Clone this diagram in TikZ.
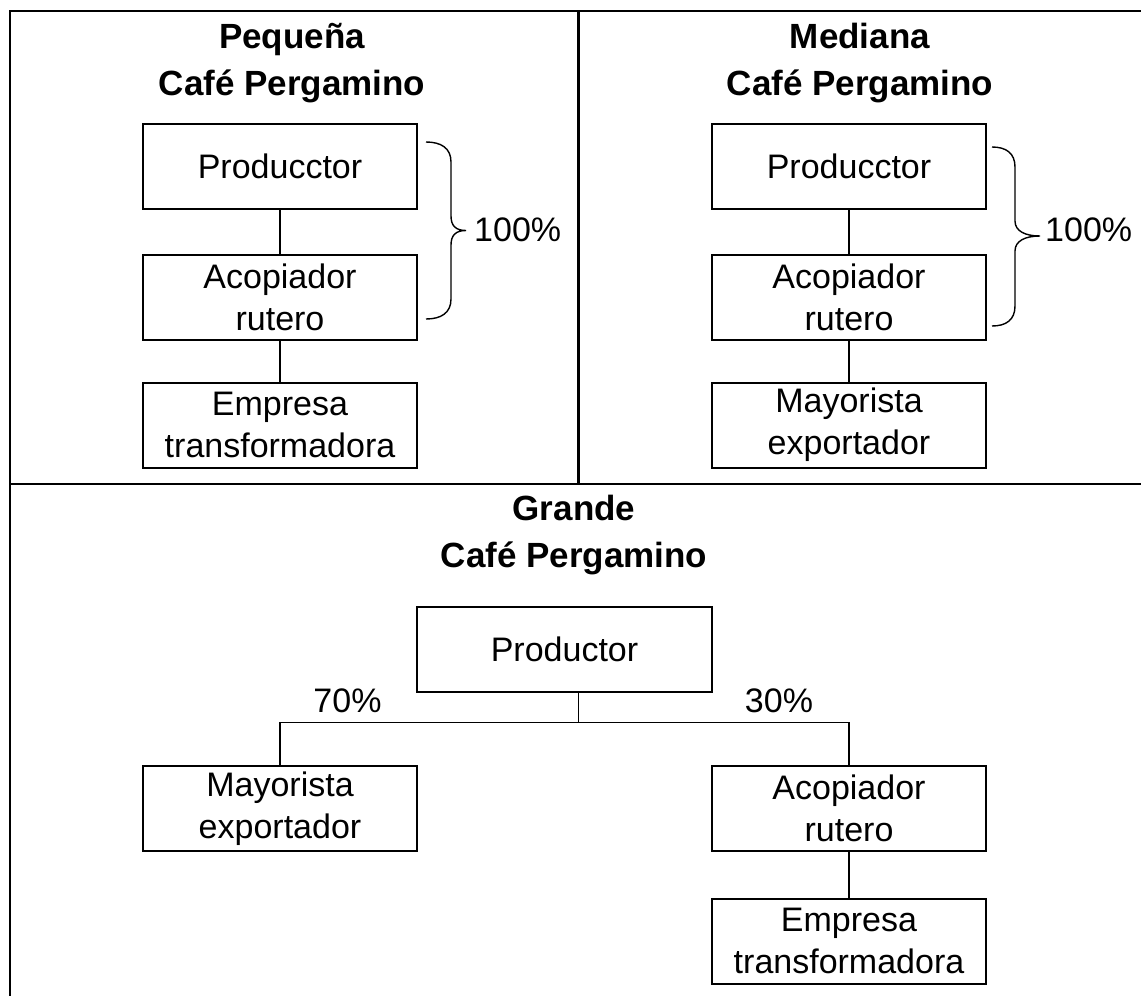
\documentclass[tikz,border=0pt]{standalone}
\usepackage{fontspec}
\setmainfont{Liberation Sans}
\usetikzlibrary{positioning}

\begin{document}
\begin{tikzpicture}[x=1pt,y=1pt]
\tikzstyle{main}=[rectangle, draw=black, line width=1.8pt, minimum width=274pt, minimum height=85pt, inner sep=0pt, align=center, font=\fontsize{34}{42}\selectfont]
\tikzstyle{connect}=[line width=1.4pt]
\tikzstyle{frame}=[line width=2.2pt]
\tikzstyle{title}=[align=center, anchor=base, inner sep=0pt, font=\fontsize{35}{47}\selectfont\bfseries]
\tikzstyle{pct}=[inner sep=0pt, font=\fontsize{34}{42}\selectfont]
\tikzstyle{brace}=[line width=1.4pt]
  \useasboundingbox (0,0) rectangle (1141,-996);
  % marco
  \draw[frame] (10,-996) -- (10,-11) -- (1141,-11);
  \draw[frame] (578.5,-11) -- (578.5,-484);
  \draw[frame] (10,-484) -- (1141,-484);
  % pequena
  \node[title] (tp) at (292,-95) {Pequeña\\Café Pergamino};
  \node[main] (p1) at (280,-166.5) {Producctor};
  \node[main] (a1) [below=44pt of p1] {Acopiador\\rutero};
  \node[main] (e1) [below=41pt of a1] {Empresa\\transformadora};
  \path (p1) edge [connect] (a1);
  \path (a1) edge [connect] (e1);
  \draw[brace] (426,-142) .. controls (441,-142) and (451,-148) .. (451,-162) -- (451,-216)
    .. controls (451,-226) and (456,-230.5) .. (466,-230.5)
    .. controls (456,-230.5) and (451,-235) .. (451,-245) -- (451,-299)
    .. controls (451,-313) and (441,-319) .. (426,-319);
  \node[pct, anchor=west] (c1) at (474,-230) {100\%};
  % mediana
  \node[title] (tm) at (860,-95) {Mediana\\Café Pergamino};
  \node[main] (p2) at (849,-166.5) {Producctor};
  \node[main] (a2) [below=44pt of p2] {Acopiador\\rutero};
  \node[main] (m2) [below=41pt of a2] {Mayorista\\exportador};
  \path (p2) edge [connect] (a2);
  \path (a2) edge [connect] (m2);
  \draw[brace] (992,-147) .. controls (1006,-147) and (1015,-153) .. (1015,-167) -- (1015,-221)
    .. controls (1015,-231) and (1025,-236) .. (1040,-236)
    .. controls (1025,-236) and (1015,-241) .. (1015,-251) -- (1015,-306)
    .. controls (1015,-320) and (1006,-326) .. (992,-326);
  \node[pct, anchor=west] (c2) at (1045,-230) {100\%};
  % grande
  \node[title] (tg) at (574,-567) {Grande\\Café Pergamino};
  \node[main, minimum width=295pt] (p3) at (564.5,-649.5) {Productor};
  \node[main] (m3) at (280,-808.5) {Mayorista\\exportador};
  \node[main] (a3) at (849,-808.5) {Acopiador\\rutero};
  \node[main] (e3) [below=46pt of a3] {Empresa\\transformadora};
  \coordinate (j) at (578.5,-722.5);
  \draw[connect] (p3.south -| j) -- (j);
  \draw[connect] (m3.north) |- (j) -| (a3.north);
  \path (a3) edge [connect] (e3);
  \node[pct, anchor=base] (l70) at (347.5,-712.7) {70\%};
  \node[pct, anchor=base] (l30) at (779,-712.7) {30\%};
\end{tikzpicture}
\end{document}
